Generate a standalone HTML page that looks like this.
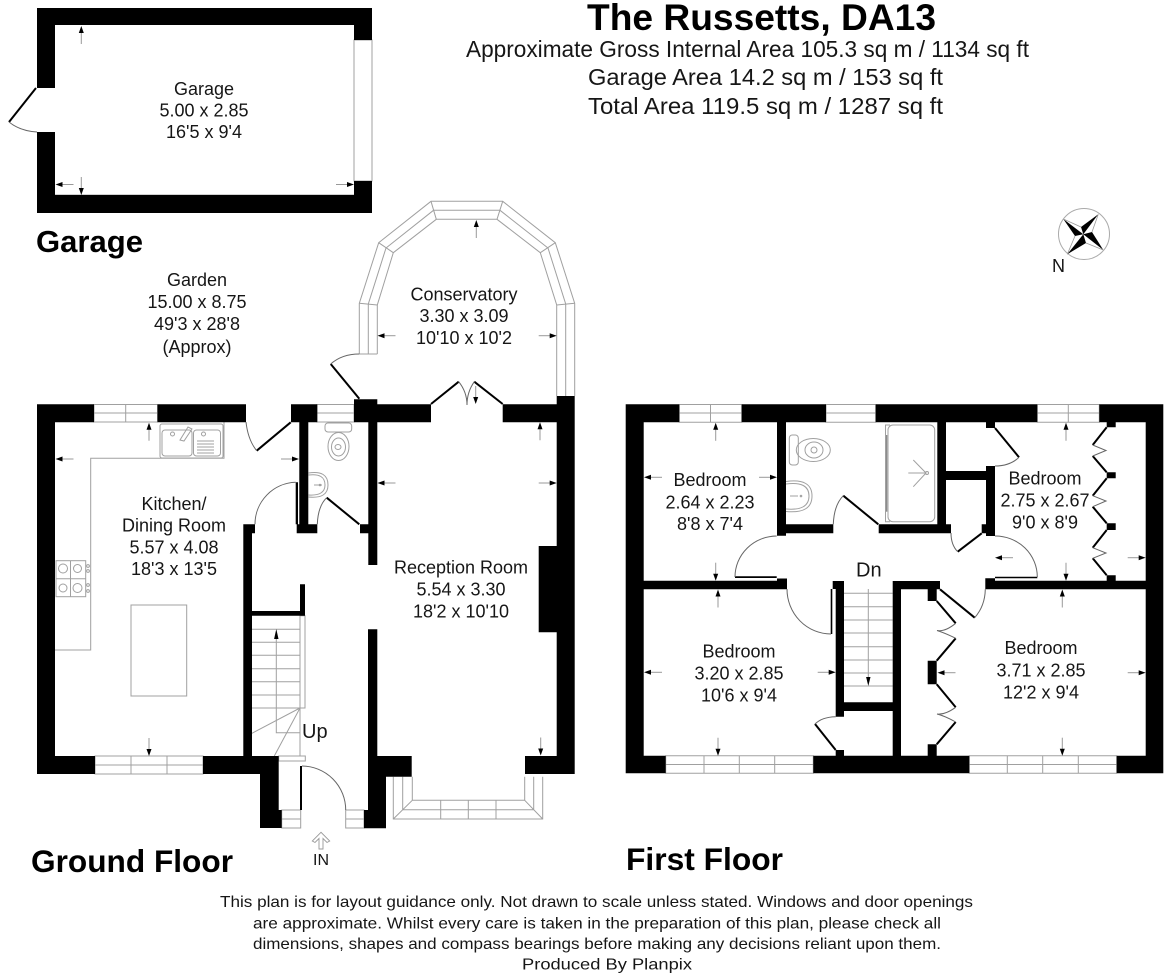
<!DOCTYPE html>
<html lang="en"><head><meta charset="utf-8"><title>The Russetts, DA13</title>
<style>
html,body{margin:0;padding:0;background:#fff}
svg{display:block}
text{font-family:"Liberation Sans",Arial,sans-serif;fill:#161616}
.r{font-size:18px;text-anchor:middle}
.b{font-weight:bold;fill:#000}
.g{fill:none;stroke:#a0a0a0;stroke-width:1}
.k{fill:none;stroke:#000;stroke-width:2}
.c{fill:none;stroke:#666;stroke-width:1}
</style></head><body>
<svg xmlns="http://www.w3.org/2000/svg" width="1168" height="976" viewBox="0 0 1168 976">
<defs>
<g id="a"><path d="M0 4V18" stroke="#999" stroke-width="1" fill="none"/><path d="M0 0L2.500 7H-2.500Z" fill="#000"/></g>
</defs>
<rect width="1168" height="976" fill="#fff"/>

<!-- Titles -->
<text x="587" y="30" font-size="37" class="b" textLength="349" lengthAdjust="spacingAndGlyphs">The Russetts, DA13</text>
<text x="466" y="57" font-size="23" textLength="563" lengthAdjust="spacingAndGlyphs">Approximate Gross Internal Area 105.3 sq m / 1134 sq ft</text>
<text x="588" y="85" font-size="23" textLength="355" lengthAdjust="spacingAndGlyphs">Garage Area 14.2 sq m / 153 sq ft</text>
<text x="588" y="114" font-size="23" textLength="355" lengthAdjust="spacingAndGlyphs">Total Area 119.5 sq m / 1287 sq ft</text>
<text x="36" y="252" font-size="31" class="b" textLength="107" lengthAdjust="spacingAndGlyphs">Garage</text>
<text x="31" y="872" font-size="31.5" class="b" textLength="202" lengthAdjust="spacingAndGlyphs">Ground Floor</text>
<text x="626" y="870" font-size="31.5" class="b" textLength="157" lengthAdjust="spacingAndGlyphs">First Floor</text>

<!-- Garage -->
<path d="M354 40H372V181H354ZM55 195H354" class="g"/>
<path d="M37 8H372V40H354V25H55V88H37ZM37 132H55V195H354V181H372V213H37Z" fill="#000"/>
<path d="M36 88L9 122" class="k"/>
<path d="M9 122Q20 131 37 132" class="c"/>
<text class="r" x="204" y="95">Garage</text>
<text class="r" x="204" y="116.500">5.00 x 2.85</text>
<text class="r" x="204" y="138">16'5 x 9'4</text>
<use href="#a" transform="translate(81.300,26)"/>
<use href="#a" transform="translate(81.300,195) rotate(180)"/>
<use href="#a" transform="translate(55.500,184.500) rotate(-90)"/>
<use href="#a" transform="translate(354,184.500) rotate(90)"/>

<!-- Garden -->
<text class="r" x="197" y="286">Garden</text>
<text class="r" x="197" y="308">15.00 x 8.75</text>
<text class="r" x="197" y="330">49'3 x 28'8</text>
<text class="r" x="197" y="353">(Approx)</text>

<!-- Conservatory -->
<path d="M359.300 354V303.300L378.700 242.700L431 201.300H502.700L555.300 242.700L574.700 303.300V396" class="g"/>
<path d="M377.300 354V305L393.300 252.700L436.300 219.300H497L540.300 252.700L556.700 305V396" class="g"/>
<path d="M368.300 354V304L386 248L433.500 210.300H500L548 248L565.700 304V396" class="g"/>
<path d="M359.300 354H377.300M359.300 303.300L377.300 305M378.700 242.700L393.300 252.700M431 201.300L436.300 219.300M502.700 201.300L497 219.300M555.300 242.700L540.300 252.700M574.700 303.300L556.700 305" class="g"/>
<path d="M359.300 398.700L330.700 364" class="k"/>
<path d="M330.700 364Q342 354 359.300 354" class="c"/>
<path d="M431 404L458.700 381.700M502.700 404L474.300 381.700" class="k"/>
<path d="M458.700 381.700Q467 392 467 405M474.300 381.700Q467 392 467 405" class="c"/>
<text class="r" x="464" y="300.500">Conservatory</text>
<text class="r" x="464" y="322">3.30 x 3.09</text>
<text class="r" x="464" y="344">10'10 x 10'2</text>
<use href="#a" transform="translate(476.300,220)"/>
<use href="#a" transform="translate(377.500,335.700) rotate(-90)"/>
<use href="#a" transform="translate(556.700,335.700) rotate(90)"/>
<use href="#a" transform="translate(475.700,404) rotate(180)"/>

<!-- Ground floor windows -->
<g class="g">
<path d="M94 404.500H157.500V422H94ZM94 413H157.500M125.700 404.500V422"/>
<path d="M317 404.500H354V422H317ZM317 413H354"/>
<path d="M95 756H203V774H95ZM95 765H203M131 756V774M167 756V774"/>
<path d="M393.300 776.700V819H542.700V776.700M412.300 776.700V800.300H524.700V776.700M402.700 776.700V809.700H533.700V776.700M393.300 819L412.300 800.300M542.700 819L524.700 800.300M440.700 800.300V819M468.300 800.300V819M496 800.300V819"/>
<path d="M281.700 810H300.700V828H281.700ZM281.700 819H300.700M345.700 810H364V828H345.700ZM345.700 819H364"/>
<path d="M278.700 756H305.300V761H278.700Z"/>
</g>

<!-- Kitchen fittings -->
<g class="g">
<path d="M224 422V458.300H90.700V650H55"/>
<rect x="131" y="605" width="55.700" height="91"/>
<rect x="160" y="424" width="63" height="34" rx="2"/>
<rect x="162" y="430" width="30" height="26" rx="3"/>
<rect x="193.500" y="430" width="27" height="26" rx="3"/>
<circle cx="172.500" cy="434" r="2"/><circle cx="203.500" cy="434" r="2"/>
<path d="M180 440L188 427L192 429L184 441Z"/>
<path d="M197 441H214M197 444H214M197 447H214M197 450H214M197 453H214"/>
<rect x="56" y="560.700" width="29.700" height="36"/>
<path d="M70.500 560.700V596.700M56 578.700H85.700"/>
<circle cx="63" cy="568.500" r="4.500"/><circle cx="77.500" cy="568.500" r="4"/><circle cx="63" cy="588" r="4"/><circle cx="77.500" cy="588" r="4.500"/>
<circle cx="88" cy="566" r="1.400"/><circle cx="88" cy="571" r="1.400"/><circle cx="88" cy="585" r="1.400"/><circle cx="88" cy="591" r="1.400"/>
<!-- WC -->
<rect x="325" y="423" width="26.700" height="9" rx="3"/>
<ellipse cx="338.500" cy="446.500" rx="10.500" ry="14"/>
<ellipse cx="338.500" cy="447" rx="7" ry="9"/>
<ellipse cx="338" cy="447" rx="3" ry="2.500"/>
<path d="M308.500 473Q328 470 328 485Q328 499 308.500 497M308.500 475Q325 473 325 485Q325 496 308.500 495"/>
<path d="M314 485H322"/><circle cx="320" cy="485" r=".8"/>
</g>

<!-- Stairs ground -->
<g class="g">
<path d="M252 629.300H300M252 642.300H300M252 655.300H300M252 668.700H300M252 681.700H300M252 695H300M252 708H300"/>
<path d="M300 615.700H305V708H300ZM300 708V756"/>
<path d="M276.300 634V732.700H300"/>
<path d="M300 708L252 733.300M300 708L274.300 756"/>
</g>
<path d="M276.300 629L278.500 639H274.100Z" fill="#000"/>

<!-- Ground floor walls -->
<path fill="#000" d="
M37 404.300H94V422.300H55V756H95V774H37Z
M157.500 404.300H246V422.300H157.500Z
M291 404.300H317.300V422.300H308.300V524.300H317.300V533.300H296.700V524.300H299.300V422.300H291Z
M354 399.300H377.300V404.300H431V422.300H377.300V565H368.300V533.300H360V524.300H368.300V422.300H354Z
M502.700 404.300H556.700V396H574.700V774H525V756H556.700V632.300H538.700V546H556.700V422.300H502.700Z
M243.300 524.300H255V533.300H252V611H300V584.300H305V615.700H252V756H278.700V810H281.700V828H260V774H203V756H243.300Z
M368 629.300H377.300V756H411.700V776.700H386V828.300H364V810H368Z
M300 766H302V810H300Z
M295.700 482.300H298V524.300H295.700Z
"/>

<!-- Ground doors -->
<path d="M290.700 422.300L256.700 450.700M359.300 524.300L326.700 497.700" class="k"/>
<path d="M246 422Q248 440 256.700 450.700M326.700 497.700Q318 506 317.300 524.300M295.700 482.300A42 42 0 0 0 255 524.300M302 766A44 44 0 0 1 345.700 810" class="c"/>

<!-- Ground labels -->
<text class="r" x="174" y="510">Kitchen/</text>
<text class="r" x="174" y="531.700">Dining Room</text>
<text class="r" x="174" y="553.300">5.57 x 4.08</text>
<text class="r" x="174" y="575">18'3 x 13'5</text>
<text class="r" x="461" y="573.500">Reception Room</text>
<text class="r" x="461" y="595.500">5.54 x 3.30</text>
<text class="r" x="461" y="617.500">18'2 x 10'10</text>
<text x="302" y="738" font-size="20">Up</text>
<text x="313" y="865" font-size="16">IN</text>
<path d="M321 832.300L312.300 841L315 842.500L319 838.500V849H323V838.500L327 842.500L329.700 841Z" fill="#fff" stroke="#999" stroke-width=".9"/>
<use href="#a" transform="translate(149,422.700)"/>
<use href="#a" transform="translate(55.500,459) rotate(-90)"/>
<use href="#a" transform="translate(299,459) rotate(90)"/>
<use href="#a" transform="translate(149,756) rotate(180)"/>
<use href="#a" transform="translate(540,422.300)"/>
<use href="#a" transform="translate(377.500,483) rotate(-90)"/>
<use href="#a" transform="translate(556.700,483) rotate(90)"/>
<use href="#a" transform="translate(540.700,755.500) rotate(180)"/>

<!-- Compass -->
<circle cx="1084" cy="234" r="25.500" fill="#fff" stroke="#aaa" stroke-width="1"/>
<g fill="#000">
<path d="M1083.300 234.300L1098.300 214.300L1081 227Z"/>
<path d="M1083.300 234.300L1063.300 219L1075 236Z"/>
<path d="M1083.300 234.300L1067.300 254.300L1086 243Z"/>
<path d="M1083.300 234.300L1103.300 250L1092 232Z"/>
</g>
<path d="M1098.300 214.300L1092 232M1063.300 219L1081 227M1067.300 254.300L1075 236M1103.300 250L1086 243" fill="none" stroke="#999" stroke-width=".8"/>
<text x="1052" y="272" font-size="18">N</text>

<!-- First floor windows -->
<g class="g">
<path d="M679.300 404.500H741.700V422.300H679.300ZM679.300 413H741.700M710.500 404.500V422.300"/>
<path d="M826 404.500H875.700V422.300H826ZM826 413H875.700"/>
<path d="M1037.300 404.500H1099.300V422.300H1037.300ZM1037.300 413H1099.300M1068.300 404.500V422.300"/>
<path d="M665.700 755.700H813.300V773.300H665.700ZM665.700 764.500H813.300M704 755.700V773.300M739.300 755.700V773.300M774.700 755.700V773.300"/>
<path d="M969.300 755.700H1116.700V773.300H969.300ZM969.300 764.500H1116.700M1007.300 755.700V773.300M1042.700 755.700V773.300M1078.300 755.700V773.300"/>
<!-- stairs down -->
<path d="M844 593.300H892.700M844 606.700H892.700M844 620H892.700M844 633H892.700M844 646.700H892.700M844 660H892.700M844 673H892.700M844 686H892.700M868.300 589V680"/>
<!-- WC -->
<rect x="789.300" y="435" width="9" height="30" rx="3"/>
<ellipse cx="813.300" cy="450" rx="17" ry="11.500"/>
<ellipse cx="814" cy="450" rx="9" ry="8"/>
<ellipse cx="814" cy="450" rx="3" ry="3"/>
<path d="M786 481.500Q812 478 812 496Q812 514 786 511.500M786 484Q809 481 809 496Q809 511 786 509"/>
<path d="M790 496H798"/><circle cx="801" cy="496" r=".8"/>
<!-- Shower -->
<rect x="888" y="425" width="46.700" height="96.700" rx="5"/>
<path d="M890 425H885.500V521.700H890"/>
<path d="M908.300 473H925M913.300 460L926 473L913.300 486.700"/><circle cx="927" cy="473" r="1.500"/>
</g>
<path d="M886.700 435V511.700" stroke="#777" stroke-width="1.100" fill="none"/>

<!-- First floor walls -->
<path fill="#000" d="
M625.700 404.300H679.300V422.300H643.700V580.700H777V578.500H787V589.300H643.700V755.700H665.700V773.300H625.700Z
M741.700 404.300H826V422.300H786V524.300H833.300V533.300H786V535.700H777V422.300H741.700Z
M875.700 404.300H1037.300V422.300H995V428H986V422.300H946V524.300H951V533.300H878.700V524.300H937.300V422.300H875.700Z
M946 471H986V466H995V536H986V533.300H981.700V524.300H986V480H946Z
M1099.300 404.300H1163.300V773.300H1116.700V755.700H1145.700V589.300H985.300V578.300H995V580.700H1106.700V575.300H1115.700V580.700H1145.700V422.300H1115.700V427.300H1106.700V422.300H1099.300Z
M1106.700 472.300H1115.700V478.300H1106.700ZM1106.700 523.300H1115.700V530H1106.700Z
M832.700 581H844V702.300H892.700V581H940V589.300H901V755.700H927.700V744.300H936.700V755.700H969.300V773.300H813.300V755.700H835.700V750H844V755.700H892.700V711H844V716.700H835.700V589H832.700Z
M927.700 589.300H936.700V601H927.700ZM927.700 660.700H936.700V684.300H927.700Z
M830.700 589H832.300V634H830.700Z
M735 576.300H776.700V578H735ZM995 576.700H1037.300V578.300H995Z
"/>

<!-- First floor doors -->
<g class="k">
<path d="M878.300 524.300L843.300 495.700"/>
<path d="M995 428L1019 457.300"/>
<path d="M981.700 533.300L957.700 551.700"/>
<path d="M940 589.300L974.700 617.700"/>
<path d="M835.700 750L815 724"/>
<path d="M936.700 601L955.700 623.300M955.700 638.300L936.700 660.700M936.700 684.300L955.700 707.300M955.700 722L936.700 744.300"/>
<path d="M1106.700 427.300L1092.700 445M1092.700 456L1106.700 472.300M1106.700 478.300L1092.700 495.700M1092.700 506.700L1106.700 523.300M1106.700 530L1092.700 547.700M1092.700 558.300L1106.700 575.300"/>
</g>
<g class="c">
<path d="M843.300 495.700Q834 505 833.300 524.300"/>
<path d="M776.700 536A42 41 0 0 0 735 577"/>
<path d="M787 589A44 45 0 0 0 831 634"/>
<path d="M995 536A42 41 0 0 1 1037.300 577"/>
<path d="M1019 457.300Q1010 466 995 466"/>
<path d="M957.700 551.700Q951 545 951 533"/>
<path d="M974.700 617.700Q985 606 985.300 589.300"/>
<path d="M815 724Q822 717 835.700 716.700"/>
<path d="M955.700 623.300Q945 632 937 630.500Q945 633 955.700 638.300M955.700 707.300Q945 715 937 714Q945 716 955.700 722"/>
<path d="M1092.700 445L1106 450.500L1092.700 456M1092.700 495.700L1106 501L1092.700 506.700M1092.700 547.700L1106 553L1092.700 558.300"/>
</g>

<!-- First floor labels -->
<text class="r" x="710" y="486">Bedroom</text>
<text class="r" x="710" y="508.300">2.64 x 2.23</text>
<text class="r" x="710" y="530">8'8 x 7'4</text>
<text class="r" x="739" y="657.700">Bedroom</text>
<text class="r" x="739" y="679.300">3.20 x 2.85</text>
<text class="r" x="739" y="701.300">10'6 x 9'4</text>
<text class="r" x="1045" y="484.300">Bedroom</text>
<text class="r" x="1045" y="506.700">2.75 x 2.67</text>
<text class="r" x="1045" y="528.300">9'0 x 8'9</text>
<text class="r" x="1041" y="654">Bedroom</text>
<text class="r" x="1041" y="676.300">3.71 x 2.85</text>
<text class="r" x="1041" y="698.300">12'2 x 9'4</text>
<text x="856" y="576.700" font-size="20">Dn</text>
<use href="#a" transform="translate(715.700,422.800)"/>
<use href="#a" transform="translate(644,477.300) rotate(-90)"/>
<use href="#a" transform="translate(777,477.300) rotate(90)"/>
<use href="#a" transform="translate(715.700,580.700) rotate(180)"/>
<use href="#a" transform="translate(718,589.500)"/>
<use href="#a" transform="translate(644,672.300) rotate(-90)"/>
<use href="#a" transform="translate(835.700,672.300) rotate(90)"/>
<use href="#a" transform="translate(718,755.700) rotate(180)"/>
<use href="#a" transform="translate(1066,422.800)"/>
<use href="#a" transform="translate(995,557.700) rotate(-90)"/>
<use href="#a" transform="translate(1145.700,557.700) rotate(90)"/>
<use href="#a" transform="translate(1066,580.700) rotate(180)"/>
<use href="#a" transform="translate(1062.300,589.500)"/>
<use href="#a" transform="translate(937.500,672.700) rotate(-90)"/>
<use href="#a" transform="translate(1145.700,672.700) rotate(90)"/>
<use href="#a" transform="translate(1062.300,755.700) rotate(180)"/>
<path d="M868.300 686L866.100 677H870.500Z" fill="#000"/>

<!-- Disclaimer -->
<text x="220" y="907" font-size="16" textLength="753" lengthAdjust="spacingAndGlyphs">This plan is for layout guidance only. Not drawn to scale unless stated. Windows and door openings</text>
<text x="253" y="928.500" font-size="16" textLength="688" lengthAdjust="spacingAndGlyphs">are approximate. Whilst every care is taken in the preparation of this plan, please check all</text>
<text x="253" y="949" font-size="16" textLength="688" lengthAdjust="spacingAndGlyphs">dimensions, shapes and compass bearings before making any decisions reliant upon them.</text>
<text x="522" y="969.500" font-size="16" textLength="170" lengthAdjust="spacingAndGlyphs">Produced By Planpix</text>
</svg>
</body></html>
